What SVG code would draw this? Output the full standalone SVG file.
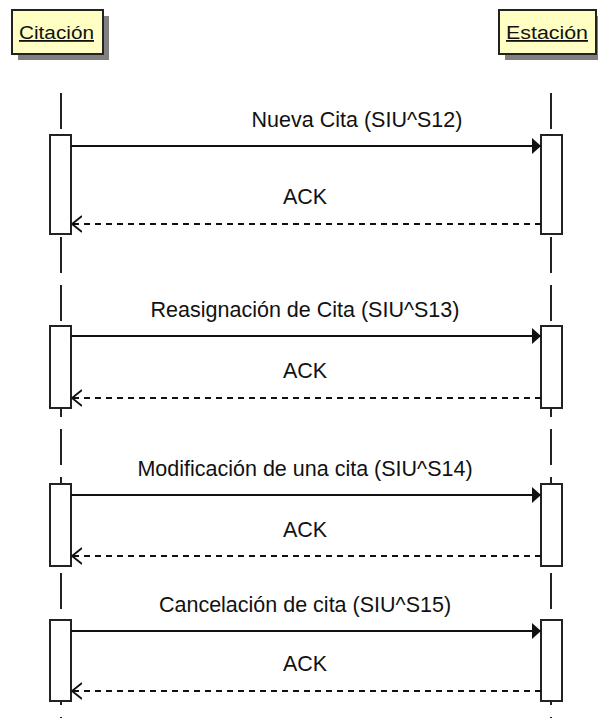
<svg xmlns="http://www.w3.org/2000/svg" width="598" height="718" viewBox="0 0 598 718">
<defs>
<marker id="solid" markerWidth="10" markerHeight="16" refX="9" refY="8" orient="auto" markerUnits="userSpaceOnUse">
<path d="M0,0 L9,8 L0,16 z" fill="#111"/>
</marker>
<marker id="open" markerWidth="12" markerHeight="20" refX="10" refY="9" orient="auto" markerUnits="userSpaceOnUse">
<path d="M0,1 L10,9 L0,17" fill="none" stroke="#111" stroke-width="1.8"/>
</marker>
</defs>
<style>
.title{fill:#ffffc4;stroke:#222;stroke-width:2}
.shadow{fill:#808080}
.tt{font-family:"Liberation Sans",Arial,sans-serif;font-size:18px;fill:#111;text-decoration:underline}
.life{stroke:#222;stroke-width:2;stroke-dasharray:36 12;fill:none}
.act{fill:#fff;stroke:#222;stroke-width:2}
.msg{stroke:#111;stroke-width:2;fill:none}
.ret{stroke:#111;stroke-width:2;stroke-dasharray:6 5;fill:none}
.lbl{font-family:"Liberation Sans",Arial,sans-serif;font-size:21.5px;fill:#111;text-anchor:middle}
</style>
<rect width="598" height="718" fill="#fff"/>
<g id="lifeline-citacion">
<line class="life" x1="61" y1="93" x2="61" y2="718"/>
</g>
<g id="lifeline-estacion">
<line class="life" x1="551" y1="93" x2="551" y2="718"/>
</g>
<g id="citacion">
<rect class="shadow" x="18" y="16" width="91" height="44"/>
<rect class="title" x="12" y="10" width="91" height="44"/>
<text class="tt" x="19" y="39" textLength="75" lengthAdjust="spacingAndGlyphs">Citación</text>
</g>
<g id="estacion">
<rect class="shadow" x="505" y="16" width="97" height="44"/>
<rect class="title" x="499" y="10" width="97" height="44"/>
<text class="tt" x="506" y="39" textLength="82" lengthAdjust="spacingAndGlyphs">Estación</text>
</g>
<g id="activations">
<rect class="act" x="50" y="135" width="21" height="99"/>
<rect class="act" x="541" y="135" width="21" height="99"/>
<rect class="act" x="50" y="326" width="21" height="82"/>
<rect class="act" x="541" y="326" width="21" height="82"/>
<rect class="act" x="50" y="484" width="21" height="82"/>
<rect class="act" x="541" y="484" width="21" height="82"/>
<rect class="act" x="50" y="620" width="21" height="81"/>
<rect class="act" x="541" y="620" width="21" height="81"/>
</g>
<g id="connectors">
<line class="msg" x1="71" y1="146" x2="541" y2="146" marker-end="url(#solid)"/>
<line class="ret" x1="541" y1="224" x2="72" y2="224" marker-end="url(#open)"/>
<line class="msg" x1="71" y1="336" x2="541" y2="336" marker-end="url(#solid)"/>
<line class="ret" x1="541" y1="398" x2="72" y2="398" marker-end="url(#open)"/>
<line class="msg" x1="71" y1="495" x2="541" y2="495" marker-end="url(#solid)"/>
<line class="ret" x1="541" y1="556" x2="72" y2="556" marker-end="url(#open)"/>
<line class="msg" x1="71" y1="631" x2="541" y2="631" marker-end="url(#solid)"/>
<line class="ret" x1="541" y1="691" x2="72" y2="691" marker-end="url(#open)"/>
</g>
<g id="labels">
<text class="lbl" x="357" y="127">Nueva Cita (SIU^S12)</text>
<text class="lbl" x="305" y="204">ACK</text>
<text class="lbl" x="305" y="317">Reasignación de Cita (SIU^S13)</text>
<text class="lbl" x="305" y="378">ACK</text>
<text class="lbl" x="305" y="476">Modificación de una cita (SIU^S14)</text>
<text class="lbl" x="305" y="537">ACK</text>
<text class="lbl" x="305" y="612">Cancelación de cita (SIU^S15)</text>
<text class="lbl" x="305" y="671">ACK</text>
</g>
</svg>
